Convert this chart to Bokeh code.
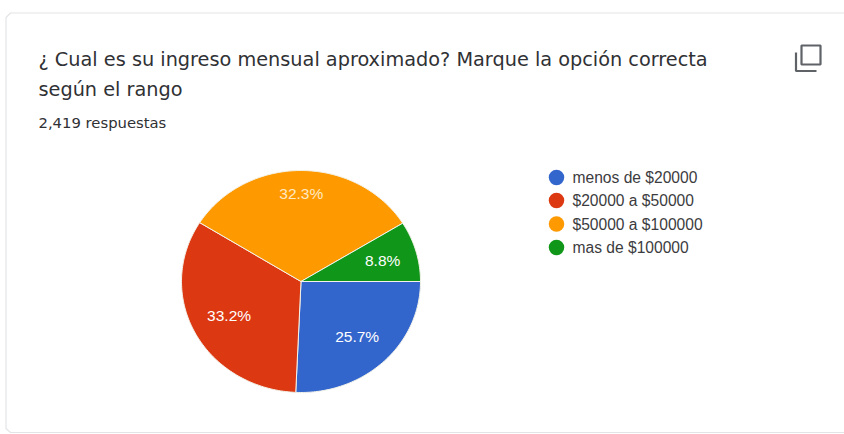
import math
from bokeh.plotting import figure
from bokeh.models import Range1d
from bokeh.core.properties import value
from bokeh.embed import file_html
from bokeh.resources import INLINE

categories = ["menos de $20000", "$20000 a $50000", "$50000 a $100000", "mas de $100000"]
shares = [25.7, 33.2, 32.3, 8.8]
share_labels = ["25.7%", "33.2%", "32.3%", "8.8%"]
colors = ["#3366CC", "#DC3912", "#FF9900", "#109618"]
label_colors = ["#ffffff", "#ffffff", "#ffe9c4", "#ffffff"]
title_lines = ["¿ Cual es su ingreso mensual aproximado? Marque la opción correcta", "según el rango"]
subtitle = "2,419 respuestas"

W, H = 844, 434
CX, CY, RX, RY = 300.5, 281.0, 119.5, 111.0
label_fx = [0.68, 0.68, 0.68, 0.71]
label_fy = [0.69, 0.66, 0.79, 0.70]

p = figure(width=W, height=H, output_backend="svg", toolbar_location=None,
           x_range=Range1d(0, W), y_range=Range1d(H, 0),
           min_border=0, outline_line_color=None, background_fill_color="#ffffff",
           border_fill_color="#ffffff")
p.xaxis.visible = False
p.yaxis.visible = False
p.grid.visible = False

# card
p.line([844, 10, 5.5, 5.5, 10, 844], [12.5, 12.5, 17, 428, 432, 432], line_color="#e3e4e6", line_width=1.2)

# slices: clockwise from 3 o'clock
total = sum(shares)
xs, ys = [], []
start = 0.0
lx, ly = [], []
for s, fx, fy in zip(shares, label_fx, label_fy):
    sweep = s / total * 2 * math.pi
    n = max(2, int(s * 3))
    angs = [start + sweep * i / n for i in range(n + 1)]
    xs.append([CX] + [CX + RX * math.cos(a) for a in angs])
    ys.append([CY] + [CY + RY * math.sin(a) for a in angs])
    mid = start + sweep / 2
    lx.append(CX + RX * fx * math.cos(mid))
    ly.append(CY + RY * fy * math.sin(mid))
    start += sweep
p.patches(xs, ys, fill_color=colors, line_color="#f3f3ea", line_width=1)
p.text(lx, ly, text=share_labels, text_color=label_colors, text_font=value("Liberation Sans"),
       text_font_size="15.5px", text_align="center", text_baseline="middle")

# title
p.text([38], [58.5], text=[title_lines[0]], text_color="#303134", text_font=value("DejaVu Sans"),
       text_font_size="19.3px", text_baseline="alphabetic")
p.text([38], [88.5], text=[title_lines[1]], text_color="#303134", text_font=value("DejaVu Sans"),
       text_font_size="19.3px", text_baseline="alphabetic")
p.text([38], [122], text=[subtitle], text_color="#303134", text_font=value("DejaVu Sans"),
       text_font_size="14.8px", text_baseline="alphabetic")

# legend
ly0 = [177, 200, 223.5, 247]
p.scatter([556] * 4, ly0, size=15.5, marker="circle", fill_color=colors, line_color=None)
p.text([572] * 4, ly0, text=categories, text_color="#3c3c40", text_font=value("Liberation Sans"),
       text_font_size="15.6px", text_baseline="middle")

# copy icon
p.quad(left=[801], right=[820], top=[45], bottom=[64], fill_color=None,
       line_color="#5f6368", line_width=2.2)
p.line([795.5, 795.5, 816], [52, 70.5, 70.5], line_color="#5f6368", line_width=2.2)

open("out.html", "w").write(file_html(p, INLINE))
